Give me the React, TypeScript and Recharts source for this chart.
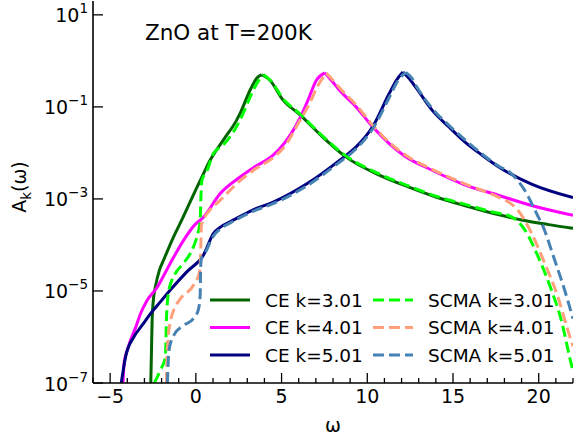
import React from 'react';
import { LineChart, Line, XAxis, YAxis, Customized } from 'recharts';

const FONT = '"DejaVu Sans", "Liberation Sans", sans-serif';

// (omega, A_k(omega)) pairs along each spectral function
const ceK301: [number, number][] = [
  [-2.63, 1.0e-7], [-2.6, 3.2e-7], [-2.55, 2.3e-6], [-2.46, 7.4e-6], [-2.36, 1.23e-5],
  [-2.13, 2.8e-5], [-1.88, 4.7e-5], [-1.3, 1.5e-4], [-0.82, 3.5e-4], [0.0, 1.6e-3],
  [0.44, 3.5e-3], [0.83, 6.9e-3], [1.6, 1.9e-2], [2.37, 5.1e-2], [2.58, 7.2e-2],
  [3.16, 2.3e-1], [3.55, 4.2e-1], [3.84, 5.0e-1], [4.32, 3.8e-1], [5.09, 1.4e-1],
  [6.06, 6.8e-2], [7.41, 2.2e-2], [8.77, 8.1e-3], [10.7, 3.3e-3], [12.43, 1.8e-3],
  [14.0, 1.1e-3], [15.72, 7.1e-4], [17.5, 4.7e-4], [19.0, 3.5e-4], [20.5, 2.8e-4],
  [22.0, 2.3e-4],
];

const ceK401: [number, number][] = [
  [-4.25, 1.0e-7], [-4.19, 2.6e-7], [-4.0, 5.2e-7], [-3.81, 8.5e-7], [-3.5, 1.66e-6],
  [-3.23, 3.2e-6], [-2.84, 6.3e-6], [-2.26, 1.2e-5], [-1.49, 4.0e-5], [-0.72, 1.26e-4],
  [-0.04, 2.8e-4], [0.44, 4.0e-4], [1.41, 1.3e-3], [2.58, 3.0e-3], [3.44, 5.0e-3],
  [4.51, 8.9e-3], [5.09, 1.5e-2], [6.06, 5.6e-2], [6.54, 1.4e-1], [7.03, 3.8e-1],
  [7.51, 5.5e-1], [7.9, 3.8e-1], [8.38, 2.3e-1], [9.35, 1.0e-1], [10.31, 3.7e-2],
  [11.28, 1.6e-2], [12.2, 8.5e-3], [13.78, 4.2e-3], [15.72, 2.0e-3], [17.65, 1.2e-3],
  [19.58, 7.2e-4], [22.0, 4.4e-4],
];

const ceK501: [number, number][] = [
  [-4.35, 1.0e-7], [-4.1, 3.7e-7], [-3.62, 1.0e-6], [-3.13, 1.8e-6], [-2.65, 3.2e-6],
  [-2.07, 5.8e-6], [-1.49, 1.05e-5], [-0.53, 2.6e-5], [0.44, 6.0e-5], [1.04, 1.8e-4],
  [1.41, 2.4e-4], [2.2, 3.5e-4], [3.34, 5.8e-4], [4.51, 8.5e-4], [6.45, 2.1e-3],
  [8.38, 6.9e-3], [9.35, 1.35e-2], [10.31, 3.7e-2], [11.28, 1.95e-1], [11.7, 3.8e-1],
  [12.08, 5.7e-1], [12.43, 4.2e-1], [12.82, 2.7e-1], [13.78, 8.5e-2], [14.75, 3.7e-2],
  [15.72, 1.7e-2], [16.7, 8.9e-3], [17.65, 5.0e-3], [19.58, 2.1e-3], [22.0, 1.07e-3],
];

const scmaK301: [number, number][] = [
  [-2.42, 1.0e-7], [-2.07, 1.9e-7], [-1.78, 3.7e-7], [-1.74, 1.0e-6], [-1.72, 2.3e-6],
  [-1.59, 9.5e-6], [-1.4, 1.7e-5], [-1.2, 2.4e-5], [-0.72, 4.0e-5], [-0.14, 9.1e-5],
  [0.12, 1.8e-4], [0.25, 3.2e-4], [0.29, 1.0e-3], [0.36, 2.6e-3], [0.63, 3.9e-3],
  [1.03, 9.8e-3], [1.6, 1.5e-2], [2.37, 3.7e-2], [2.76, 7.2e-2], [3.17, 1.66e-1],
  [3.55, 3.2e-1], [3.95, 5.0e-1], [4.4, 3.6e-1], [5.09, 1.5e-1], [6.06, 7.1e-2],
  [7.41, 2.3e-2], [8.77, 8.5e-3], [10.7, 3.5e-3], [12.43, 1.9e-3], [14.0, 1.15e-3],
  [15.72, 7.6e-4], [17.5, 5.0e-4], [18.2, 4.4e-4], [18.6, 3.7e-4], [19.2, 2.1e-4],
  [19.97, 5.5e-5], [20.74, 1.05e-5], [21.32, 2.3e-6], [21.8, 3.7e-7], [22.0, 1.8e-7],
];

const scmaK401: [number, number][] = [
  [-1.72, 1.0e-7], [-1.69, 3.1e-7], [-1.63, 8.5e-7], [-1.47, 2.3e-6], [-1.2, 4.5e-6],
  [-0.9, 6.8e-6], [-0.1, 1.4e-5], [0.2, 2.5e-5], [0.28, 6.3e-5], [0.32, 2.6e-4],
  [0.44, 3.5e-4], [0.8, 5.6e-4], [1.41, 9.3e-4], [2.58, 2.5e-3], [3.44, 4.4e-3],
  [4.51, 7.9e-3], [5.09, 1.26e-2], [6.06, 5.0e-2], [6.6, 1.12e-1], [7.1, 2.8e-1],
  [7.6, 5.4e-1], [8.0, 3.8e-1], [8.38, 2.6e-1], [9.35, 1.1e-1], [10.31, 4.0e-2],
  [11.28, 1.7e-2], [12.2, 9.1e-3], [13.78, 4.4e-3], [15.72, 2.1e-3], [17.65, 1.1e-3],
  [18.3, 8.3e-4], [18.8, 5.6e-4], [19.58, 1.8e-4], [20.35, 4.0e-5], [21.12, 7.4e-6],
  [21.7, 1.4e-6], [22.0, 6.3e-7],
];

const scmaK501: [number, number][] = [
  [-1.66, 1.0e-7], [-1.57, 5.1e-7], [-1.28, 1.1e-6], [-0.7, 1.8e-6], [-0.14, 2.5e-6],
  [0.15, 4.0e-6], [0.25, 7.9e-6], [0.28, 3.2e-5], [0.32, 5.0e-5], [0.5, 6.3e-5],
  [1.04, 1.6e-4], [1.41, 2.2e-4], [2.2, 3.3e-4], [3.34, 5.4e-4], [4.51, 7.9e-4],
  [6.45, 1.9e-3], [8.38, 6.3e-3], [9.35, 1.23e-2], [10.31, 3.3e-2], [11.28, 1.6e-1],
  [11.8, 3.8e-1], [12.25, 5.6e-1], [12.6, 4.2e-1], [12.82, 3.0e-1], [13.78, 9.3e-2],
  [14.75, 4.0e-2], [15.72, 1.9e-2], [17.65, 5.2e-3], [18.42, 3.5e-3], [19.2, 1.5e-3],
  [19.97, 4.1e-4], [20.16, 3.0e-4], [20.93, 4.7e-5], [21.51, 1.05e-5], [22.0, 2.5e-6],
];

const xTicks = [-6, -5, -4, -3, -2, -1, 0, 1, 2, 3, 4, 5, 6, 7, 8, 9, 10, 11, 12, 13, 14, 15, 16, 17, 18, 19, 20, 21, 22];
const yTicks = [1e-7, 1e-5, 1e-3, 1e-1, 1e1];
const yTickExp = ['−7', '−5', '−3', '−1', '1'];

const series = [
  { name: 'CE k=3.01', points: ceK301, color: '#006400', dashed: false },
  { name: 'CE k=4.01', points: ceK401, color: '#ff00ff', dashed: false },
  { name: 'CE k=5.01', points: ceK501, color: '#000080', dashed: false },
  { name: 'SCMA k=3.01', points: scmaK301, color: '#00ff00', dashed: true },
  { name: 'SCMA k=4.01', points: scmaK401, color: '#ffa07a', dashed: true },
  { name: 'SCMA k=5.01', points: scmaK501, color: '#4682b4', dashed: true },
];

const DASH = '11 5';

// split each curve at its quasiparticle peak so the cusp stays sharp
const peakIndex = (pts: [number, number][]) =>
  pts.reduce((best, p, i) => (p[1] > pts[best][1] ? i : best), 0);

const branches = series.flatMap((s) => {
  const k = peakIndex(s.points);
  const toRows = (pts: [number, number][]) => pts.map(([w, a]) => ({ w, a }));
  return [
    { ...s, key: `${s.name}-lo`, rows: toRows(s.points.slice(0, k + 1)) },
    { ...s, key: `${s.name}-hi`, rows: toRows(s.points.slice(k)) },
  ];
});

const tickLen = (v: number) => (v % 5 === 0 ? 10 : 5);

const BottomTick = (props: any) => {
  const { x, y, payload } = props;
  const v = payload.value as number;
  return (
    <g>
      <line x1={x} x2={x} y1={y} y2={y - tickLen(v)} stroke="#000" strokeWidth={1.3} />
      {v % 5 === 0 && (
        <text x={x} y={y + 20} textAnchor="middle" fontSize={19} fontFamily={FONT} fill="#000">
          {v < 0 ? `−${-v}` : v}
        </text>
      )}
    </g>
  );
};

const TopTick = (props: any) => {
  const { x, y, payload } = props;
  return <line x1={x} x2={x} y1={y} y2={y + tickLen(payload.value)} stroke="#000" strokeWidth={1.3} />;
};

const LeftTick = (props: any) => {
  const { x, y, index } = props;
  return (
    <g>
      <line x1={x} x2={x + 10} y1={y} y2={y} stroke="#000" strokeWidth={1.3} />
      <text x={x - 5} y={y + 7.5} textAnchor="end" fontSize={19} fontFamily={FONT} fill="#000">
        10
        <tspan dy={-9} fontSize={13.5}>{yTickExp[index]}</tspan>
      </text>
    </g>
  );
};

const RightTick = (props: any) => {
  const { x, y } = props;
  return <line x1={x} x2={x - 10} y1={y} y2={y} stroke="#000" strokeWidth={1.3} />;
};

const Annotations = () => (
  <g fontFamily={FONT} fill="#000">
    <text x={145} y={39.5} fontSize={21.5}>ZnO at T=200K</text>
    <text x={333} y={432} fontSize={19} textAnchor="middle">ω</text>
    <text x={26} y={187} fontSize={19} textAnchor="middle" transform="rotate(-90 26 187)">
      A<tspan dy={5} fontSize={13.5}>k</tspan>
      <tspan dy={-5}>(ω)</tspan>
    </text>
    {series.map((s, i) => {
      const col = Math.floor(i / 3);
      const row = i % 3;
      const lx = col === 0 ? 210 : 373;
      const ly = 300 + row * 27.5;
      return (
        <g key={s.name}>
          <line
            x1={lx}
            x2={lx + 40}
            y1={ly}
            y2={ly}
            stroke={s.color}
            strokeWidth={3}
            strokeDasharray={s.dashed ? DASH : undefined}
          />
          <text x={lx + 55} y={ly + 6.5} fontSize={18.5}>{s.name}</text>
        </g>
      );
    })}
  </g>
);

export default function App() {
  const axisLine = { stroke: '#000', strokeWidth: 1.6 };
  return (
    <div style={{ position: 'absolute', left: 0, top: 0, background: '#fff' }}>
      <LineChart width={574} height={440} margin={{ top: 1, right: 1, bottom: 0, left: 0 }}>
        <XAxis
          xAxisId="b"
          dataKey="w"
          type="number"
          domain={[-6, 22]}
          allowDataOverflow
          ticks={xTicks}
          interval={0}
          tickSize={0}
          tickMargin={0}
          tickLine={false}
          axisLine={axisLine}
          height={57}
          tick={BottomTick}
        />
        <XAxis
          xAxisId="t"
          orientation="top"
          dataKey="w"
          type="number"
          domain={[-6, 22]}
          allowDataOverflow
          ticks={xTicks}
          interval={0}
          tickSize={0}
          tickMargin={0}
          tickLine={false}
          axisLine={axisLine}
          height={0}
          tick={TopTick}
        />
        <YAxis
          yAxisId="l"
          type="number"
          scale="log"
          domain={[1e-7, 20]}
          allowDataOverflow
          ticks={yTicks}
          interval={0}
          tickSize={0}
          tickMargin={0}
          tickLine={false}
          axisLine={axisLine}
          width={93}
          tick={LeftTick}
        />
        <YAxis
          yAxisId="r"
          orientation="right"
          type="number"
          scale="log"
          domain={[1e-7, 20]}
          allowDataOverflow
          ticks={yTicks}
          interval={0}
          tickSize={0}
          tickMargin={0}
          tickLine={false}
          axisLine={axisLine}
          width={0}
          tick={RightTick}
        />
        {branches.map((b) => (
          <Line
            key={b.key}
            xAxisId="b"
            yAxisId="l"
            data={b.rows}
            dataKey="a"
            type="monotone"
            stroke={b.color}
            strokeWidth={3}
            strokeDasharray={b.dashed ? DASH : undefined}
            dot={false}
            activeDot={false}
            isAnimationActive={false}
          />
        ))}
        <Customized component={Annotations} />
      </LineChart>
    </div>
  );
}
